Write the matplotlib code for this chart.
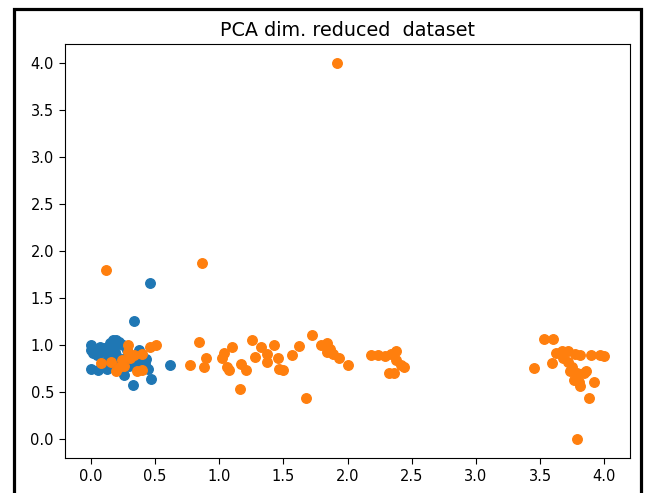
import matplotlib
matplotlib.use("Agg")
import matplotlib.pyplot as plt
from matplotlib.patches import Rectangle

# Class 0 (blue) - PCA components
blue_x = [0.0, 0.0, 0.02, 0.05, 0.08, 0.1, 0.12, 0.15, 0.17, 0.2, 0.22, 0.25,
          0.18, 0.14, 0.2, 0.25, 0.3, 0.35, 0.38, 0.4, 0.42, 0.45, 0.3, 0.28,
          0.0, 0.06, 0.13, 0.26, 0.33, 0.47, 0.62, 0.34, 0.46, 0.22, 0.1, 0.15,
          0.38, 0.43, 0.07, 0.19]
blue_y = [1.0, 0.95, 0.92, 0.9, 0.93, 0.97, 0.95, 1.02, 1.05, 1.05, 1.03, 1.0,
          0.98, 0.88, 0.9, 0.85, 0.88, 0.82, 0.78, 0.9, 0.8, 0.75, 0.78, 0.95,
          0.75, 0.73, 0.75, 0.68, 0.58, 0.64, 0.79, 1.26, 1.66, 0.8, 0.82, 0.78,
          0.95, 0.85, 0.98, 0.93]

# Class 1 (orange) - PCA components
orange_x = [0.12, 0.08, 0.16, 0.2, 0.24, 0.29, 0.29, 0.31, 0.34, 0.4, 0.46, 0.51,
            0.36, 0.4, 0.26, 0.22,
            0.77, 0.84, 0.87, 0.88, 0.9, 1.02, 1.06, 1.08, 1.1, 1.04, 1.16, 1.17,
            1.21, 1.26, 1.28, 1.33, 1.37, 1.37, 1.43, 1.46, 1.47, 1.5, 1.57, 1.62,
            1.68, 1.72, 1.79, 1.84, 1.86, 1.84, 1.89, 1.93, 2.0, 1.92,
            2.18, 2.24, 2.29, 2.34, 2.38, 2.42, 2.44, 2.32, 2.36, 2.38,
            3.45, 3.53, 3.6, 3.59, 3.62, 3.67, 3.72, 3.77, 3.81, 3.68, 3.72, 3.75,
            3.73, 3.79, 3.84, 3.86, 3.8, 3.81, 3.92, 3.88, 3.79, 3.9, 3.97, 4.0,
            3.76]
orange_y = [1.8, 0.81, 0.82, 0.72, 0.84, 1.0, 0.93, 0.86, 0.89, 0.91, 0.98, 1.0,
            0.72, 0.73, 0.78, 0.77,
            0.79, 1.03, 1.87, 0.77, 0.86, 0.86, 0.77, 0.73, 0.98, 0.92, 0.53, 0.8,
            0.73, 1.05, 0.87, 0.98, 0.91, 0.82, 1.0, 0.86, 0.75, 0.74, 0.89, 0.99,
            0.44, 1.11, 1.0, 1.02, 0.96, 0.93, 0.91, 0.86, 0.79, 4.0,
            0.89, 0.89, 0.88, 0.91, 0.94, 0.79, 0.77, 0.70, 0.70, 0.84,
            0.76, 1.07, 1.06, 0.81, 0.92, 0.94, 0.94, 0.91, 0.89, 0.86, 0.82, 0.77,
            0.72, 0.70, 0.70, 0.72, 0.61, 0.56, 0.61, 0.44, 0.0, 0.89, 0.89, 0.88,
            0.63]

fig = plt.figure(figsize=(6.46, 4.93), dpi=100)
ax = fig.add_axes([65 / 646, 1 - 458 / 493, 565 / 646, 414 / 493])

ax.scatter(blue_x, blue_y, s=47, color='#1f77b4')
ax.scatter(orange_x, orange_y, s=47, color='#ff7f0e')

ax.set_title('PCA dim. reduced  dataset', fontsize=13.8)
ax.tick_params(labelsize=10.5, length=4.5)
ax.set_xticks([0.0, 0.5, 1.0, 1.5, 2.0, 2.5, 3.0, 3.5, 4.0])
ax.set_yticks([0.0, 0.5, 1.0, 1.5, 2.0, 2.5, 3.0, 3.5, 4.0])

# black frame around the figure (screenshot border)
fig.patches.append(Rectangle((14 / 646, -0.05), 627 / 646, 1.05 - 9 / 493,
                             transform=fig.transFigure, fill=False,
                             edgecolor='black', linewidth=2.3))

fig.savefig('out.png', dpi=100)
